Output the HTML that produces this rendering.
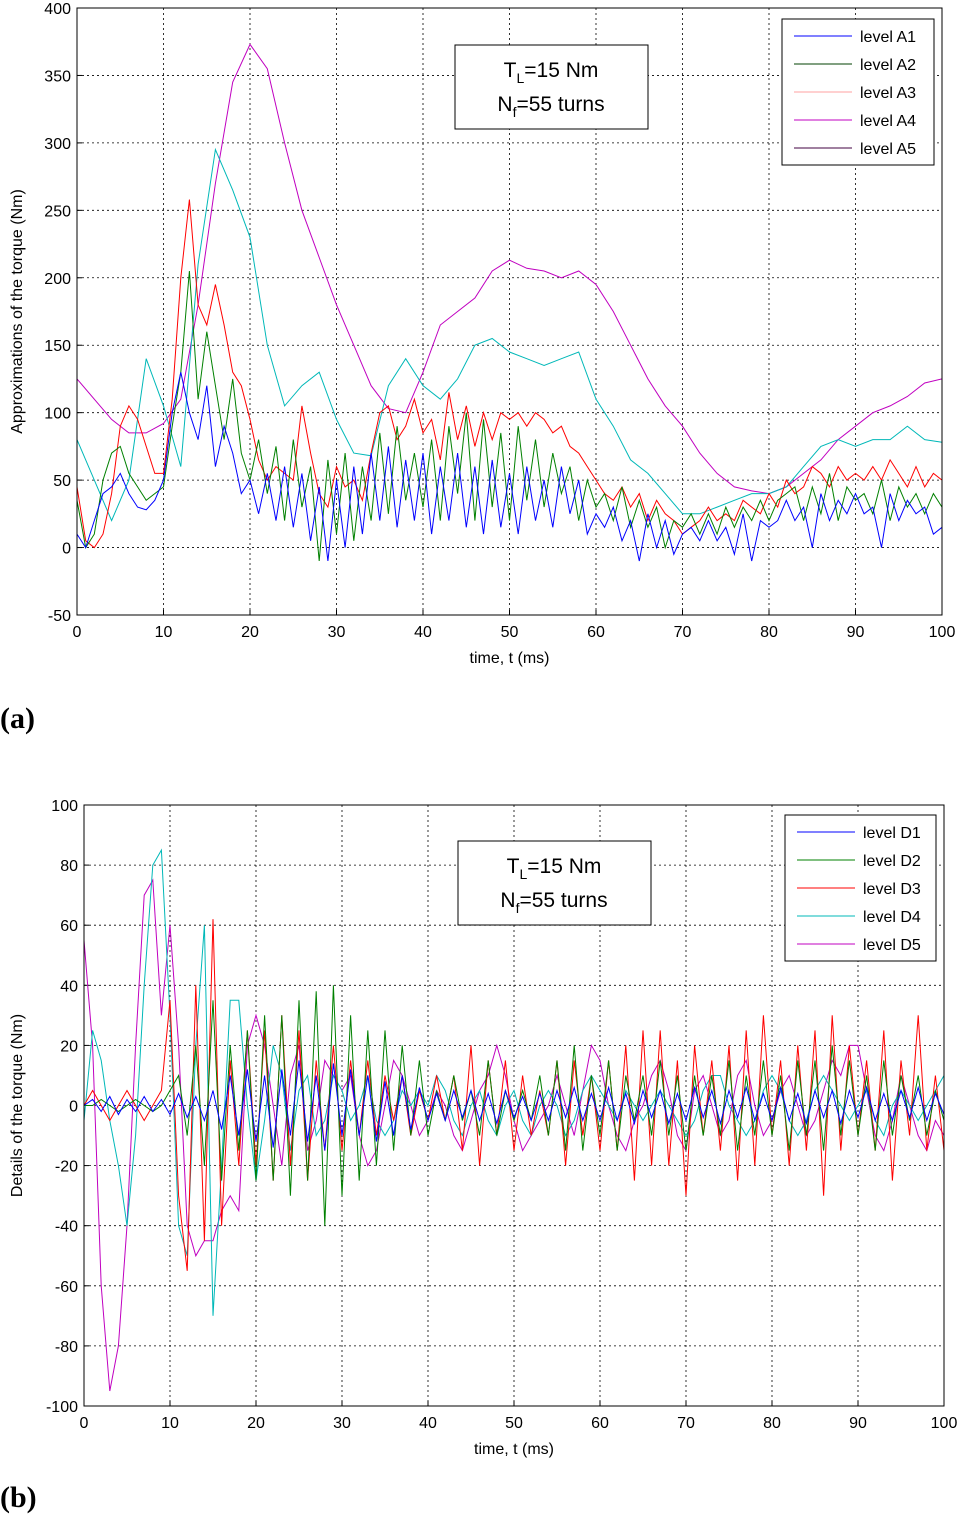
<!DOCTYPE html>
<html><head><meta charset="utf-8"><style>
body{margin:0;background:#fff;width:961px;height:1514px;overflow:hidden}
svg text{font-family:"Liberation Sans",sans-serif;fill:#000}
</style></head><body>
<svg id="s" width="961" height="1514">
<text x="0" y="728" style="font-family:'Liberation Serif',serif;font-weight:bold;font-size:30px">(a)</text>
<text x="0" y="1507" style="font-family:'Liberation Serif',serif;font-weight:bold;font-size:30px">(b)</text>
</svg>
<script>
const t1=[];for(let i=0;i<=100;i++)t1.push(i);
const t2=[];for(let i=0;i<=100;i+=2)t2.push(i);
const xTicks=[0,10,20,30,40,50,60,70,80,90,100];
const aTicks=[-50,0,50,100,150,200,250,300,350,400];
const dTicks=[-100,-80,-60,-40,-20,0,20,40,60,80,100];
const A5=[125,110,95,85,85,92,110,180,270,345,373,355,300,250,215,180,150,120,103,100,130,165,175,185,205,213,207,205,200,205,195,175,150,125,105,90,70,55,45,42,40,45,55,65,80,90,100,105,112,122,125];
const A4=[80,50,20,50,140,105,60,210,295,265,230,150,105,120,130,95,70,68,120,140,120,110,125,150,155,145,140,135,140,145,110,90,65,55,40,25,25,30,35,40,40,45,60,75,80,75,80,80,90,80,78];
const A3=[45,5,0,10,40,90,105,95,75,55,55,110,200,258,180,165,195,165,130,120,95,65,50,60,55,50,105,70,40,30,60,45,50,35,70,100,105,80,90,110,85,95,65,115,80,105,75,100,80,100,95,100,90,100,95,85,90,75,70,60,50,40,35,45,30,40,20,35,25,20,10,15,20,30,20,25,20,35,30,25,40,30,50,40,45,60,55,45,60,50,55,50,60,50,65,55,45,60,45,55,50];
const A2=[35,0,10,50,70,75,55,45,35,40,45,90,130,205,110,160,120,80,125,70,50,80,40,75,20,80,30,60,-10,65,10,70,5,60,20,85,25,90,35,70,30,80,20,90,40,100,20,95,30,85,20,90,35,80,30,70,40,60,20,50,30,40,20,45,15,35,15,30,0,20,15,25,10,25,10,30,15,30,20,35,20,35,40,45,20,45,25,55,20,45,35,40,25,50,20,45,30,40,25,40,30];
const A1=[10,0,20,40,45,55,40,30,28,35,50,100,130,100,80,120,60,90,70,40,50,25,55,20,60,15,55,5,45,-10,50,0,60,10,70,20,75,15,65,20,70,10,60,20,70,15,60,10,65,15,55,10,60,20,50,15,60,25,50,10,25,15,30,5,20,-10,25,0,20,-5,10,15,5,20,5,15,-5,25,-10,20,15,20,35,20,30,0,40,20,35,25,40,25,30,0,40,20,35,25,30,10,15];
const D5=[55,20,-60,-95,-80,-40,20,70,75,30,60,20,-40,-50,-45,-45,-35,-30,-35,20,30,20,0,-20,10,20,-15,-5,15,10,5,10,-10,-20,-15,0,15,10,0,-10,-5,5,0,-10,-15,-5,5,10,20,10,-5,-15,-10,-5,0,10,0,-10,5,20,15,0,-10,-15,-5,0,10,15,5,-10,-15,5,10,0,-10,-5,10,15,0,-10,-5,5,10,0,-10,-5,5,15,10,20,20,5,-10,-15,-5,10,0,-10,-15,-5,-10];
const D4=[-5,25,15,-5,-20,-40,-10,40,80,85,30,-40,-50,20,60,-70,-20,35,35,0,-25,-5,20,10,-15,5,10,-10,-5,10,5,-5,0,10,-5,-10,-5,5,0,5,0,10,5,-5,-10,0,5,-5,-10,0,5,-5,-10,0,5,0,-10,-5,5,10,5,0,-5,5,0,-5,0,5,0,-5,-10,-5,5,10,10,0,-5,-10,-5,5,10,5,-5,-10,-5,5,10,5,0,-5,0,5,-5,-10,0,5,0,-5,0,5,10];
const D3=[0,5,0,-5,0,5,0,-5,0,5,35,-30,-55,40,-45,62,-40,15,-20,25,-20,25,-25,30,-20,25,-25,15,-15,20,-15,15,-10,15,-10,10,-5,10,-10,5,-5,10,-5,10,-15,20,-20,15,-10,15,-15,10,-10,5,-10,15,-20,15,-10,10,-15,15,-15,20,-25,25,-20,25,-20,15,-30,20,-10,15,-15,20,-25,25,-20,30,-10,15,-20,20,-15,25,-30,30,-15,20,-10,15,-15,25,-25,15,-10,30,-15,10,-15];
const D2=[0,0,2,0,-2,0,2,0,-2,0,5,10,-10,20,-20,35,-25,20,-15,25,-25,30,-25,30,-30,35,-25,38,-40,40,-30,30,-25,25,-20,25,-15,20,-10,15,-10,5,-5,10,-5,5,-10,15,-10,5,-5,5,-5,10,-10,15,-15,20,-15,10,-10,15,-15,10,-5,10,-10,15,-10,10,-15,10,-10,10,-10,15,-15,10,-10,15,-10,10,-15,15,-10,15,-15,20,-10,15,-10,10,-15,15,-10,10,-5,10,-10,5,-5];
const D1=[0,2,-2,3,-3,2,-2,3,-2,2,-3,4,-4,3,-5,5,-8,10,-10,12,-12,10,-14,12,-10,15,-12,10,-15,14,-10,12,-10,10,-12,8,-10,10,-8,6,-5,4,-5,5,-4,5,-5,4,-6,5,-4,3,-5,4,-5,5,-4,6,-5,4,-5,6,-5,4,-6,5,-4,5,-6,4,-5,6,-4,5,-6,5,-4,6,-5,4,-5,6,-5,4,-6,5,-4,5,-6,5,-4,6,-5,4,-5,5,-4,6,-5,4,-3];
const NS="http://www.w3.org/2000/svg";
const svg=document.getElementById('s');
function mk(tag,attrs,parent){const e=document.createElementNS(NS,tag);for(const k in attrs)e.setAttribute(k,attrs[k]);(parent||svg).appendChild(e);return e;}
function panel(cfg){
  const g=mk('g',{});
  
  
  const {x0,x1,y0,y1,ymin,ymax}=cfg;
  const X=v=>x0+(v-0)/100*(x1-x0);
  const Y=v=>y1-(v-ymin)/(ymax-ymin)*(y1-y0);
  mk('rect',{x:x0,y:y0,width:x1-x0,height:y1-y0,fill:'#fff'},g);
  xTicks.forEach(v=>{
    if(v>0&&v<100){const l=mk('line',{x1:X(v),x2:X(v),y1:y0,y2:y1,stroke:'#000','stroke-width':0.8,'stroke-dasharray':'2,3'},g);}
    mk('line',{x1:X(v),x2:X(v),y1:y1,y2:y1-5,stroke:'#000'},g);
    const t=mk('text',{x:X(v),y:y1+22,'text-anchor':'middle','font-size':16},g);t.textContent=v;
    
    
  });
  cfg.yt.forEach(v=>{
    if(v>ymin&&v<ymax){const l=mk('line',{x1:x0,x2:x1,y1:Y(v),y2:Y(v),stroke:'#000','stroke-width':0.8,'stroke-dasharray':'2,3'},g);}
    mk('line',{x1:x0,x2:x0+5,y1:Y(v),y2:Y(v),stroke:'#000'},g);
    const t=mk('text',{x:x0-6,y:Y(v)+6,'text-anchor':'end','font-size':16},g);t.textContent=v;
    
    
  });
  cfg.series.forEach(s=>{
    const pts=s.d.map((v,i)=>X(s.t[i]).toFixed(1)+','+Y(v).toFixed(1)).join(' ');
    const p=mk('polyline',{points:pts,fill:'none',stroke:s.c,'stroke-width':1},g);
    
    
  });
  const fr=mk('rect',{x:x0,y:y0,width:x1-x0,height:y1-y0,fill:'none',stroke:'#000'},g);
  
  
  const xl=mk('text',{x:(x0+x1)/2,y:y1+48,'text-anchor':'middle','font-size':16},g);xl.textContent='time, t (ms)';
  
  
  const yl=mk('text',{x:0,y:0,'text-anchor':'middle','font-size':16,transform:`translate(22,${(y0+y1)/2}) rotate(-90)`},g);yl.textContent=cfg.ylabel;
  
  
  // annotation
  const a=cfg.ann;
  const ab=mk('g',{},g);
  
  
  mk('rect',{x:a.x,y:a.y,width:193,height:84,fill:'#fff',stroke:'#000'},ab);
  const t1e=mk('text',{x:a.x+96,y:a.y+32,'text-anchor':'middle','font-size':21},ab);
  t1e.innerHTML='T<tspan font-size="14" dy="6">L</tspan><tspan dy="-6">=15 Nm</tspan>';
  const t2e=mk('text',{x:a.x+96,y:a.y+66,'text-anchor':'middle','font-size':21},ab);
  t2e.innerHTML='N<tspan font-size="14" dy="6">f</tspan><tspan dy="-6">=55 turns</tspan>';
  // legend
  const L=cfg.leg;
  const lg=mk('g',{},g);
  
  
  mk('rect',{x:L.x,y:L.y,width:L.w,height:146,fill:'#fff',stroke:'#000'},lg);
  cfg.legend.forEach((e,i)=>{
    const yy=L.y+17+i*28;
    const eg=mk('g',{},lg);
    
    
    mk('line',{x1:L.x+12,x2:L.x+70,y1:yy,y2:yy,stroke:e.c},eg);
    const tt=mk('text',{x:L.x+78,y:yy+6,'font-size':16},eg);tt.textContent=e.n;
  });
}
panel({name:'approximations-chart',x0:77,x1:942,y0:8,y1:615,ymin:-50,ymax:400,yt:aTicks,
 ylabel:'Approximations of the torque (Nm)',ann:{x:455,y:45},leg:{x:782,y:19,w:152},
 series:[{d:A5,t:t2,c:'#c000c0',n:'series-a5'},{d:A4,t:t2,c:'#00b8b8',n:'series-a4'},{d:A3,t:t1,c:'#ff0000',n:'series-a3'},{d:A2,t:t1,c:'#008000',n:'series-a2'},{d:A1,t:t1,c:'#0000ff',n:'series-a1'}],
 legend:[{n:'level A1',c:'#0000ff'},{n:'level A2',c:'#004000'},{n:'level A3',c:'#ffa0a0'},{n:'level A4',c:'#c000c0'},{n:'level A5',c:'#400040'}]});
panel({name:'details-chart',x0:84,x1:944,y0:805,y1:1406,ymin:-100,ymax:100,yt:dTicks,
 ylabel:'Details of the torque (Nm)',ann:{x:458,y:841},leg:{x:785,y:815,w:151},
 series:[{d:D5,t:t1,c:'#c000c0',n:'series-d5'},{d:D4,t:t1,c:'#00b8b8',n:'series-d4'},{d:D3,t:t1,c:'#ff0000',n:'series-d3'},{d:D2,t:t1,c:'#008000',n:'series-d2'},{d:D1,t:t1,c:'#0000ff',n:'series-d1'}],
 legend:[{n:'level D1',c:'#0000ff'},{n:'level D2',c:'#008000'},{n:'level D3',c:'#ff0000'},{n:'level D4',c:'#00b8b8'},{n:'level D5',c:'#c000c0'}]});
</script>
</body></html>
